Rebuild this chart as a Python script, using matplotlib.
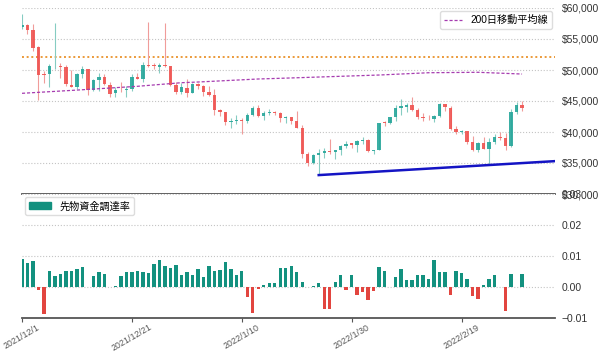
import matplotlib
matplotlib.use("Agg")
import matplotlib.pyplot as plt
import matplotlib.dates as mdates
from matplotlib.patches import Patch
from matplotlib.lines import Line2D
import numpy as np
import pandas as pd

plt.rcParams['font.family'] = ['Liberation Sans', 'Noto Sans CJK JP']

dates = pd.date_range('2021-12-01', '2022-03-02', freq='D')

opens = [56907, 57217, 56509, 53727, 49400, 49413, 50581, 50667, 50451, 47642,
         47264, 49354, 50114, 46709, 48380, 48900, 47654, 46219, 46853, 46707,
         46886, 48937, 48626, 50807, 50800, 50500, 50800, 50679, 47624, 46491,
         47169, 46311, 47681, 47343, 46459, 45899, 43566, 43153, 41562, 41734,
         41910, 41819, 42742, 43947, 42599, 43102, 43172, 43118, 42250, 42375,
         41744, 40699, 36471, 35048, 36275, 36654, 36950, 36841, 37128, 37780,
         38151, 37920, 38481, 38744, 36945, 37149, 41501, 41441, 42407, 43855,
         44096, 44347, 43571, 42412, 42237, 42158, 42586, 44578, 43937, 40552,
         40022, 40118, 38423, 37068, 38285, 37278, 38333, 39213, 39098, 37707,
         43194, 44357]
highs = [59041, 57376, 57482, 53904, 49768, 50929, 57600, 51171, 50797, 50015,
         49458, 50724, 50205, 48475, 49473, 49425, 47995, 47313, 48089, 47401,
         49329, 49531, 51332, 57700, 51156, 51209, 57500, 50679, 48119, 47879,
         48473, 47827, 47881, 47510, 47406, 46929, 43749, 43153, 42229, 42663,
         42200, 43002, 44136, 44314, 43346, 43724, 43436, 43179, 42534, 42479,
         43413, 41060, 36836, 36433, 37248, 37444, 38825, 37148, 37952, 38576,
         38266, 38647, 39115, 38834, 37154, 41527, 41847, 42500, 44401, 45293,
         44727, 45661, 43810, 42992, 42726, 42790, 44667, 44578, 44132, 40930,
         40247, 40119, 39394, 38432, 39123, 38968, 39630, 40005, 39843, 43760,
         44793, 45077]
lows = [56553, 55777, 53000, 45200, 47857, 47281, 50175, 48765, 47358, 47236,
        46942, 48739, 45894, 46547, 46672, 47529, 45598, 45598, 46502, 45579,
        46650, 48511, 48110, 50514, 50142, 49576, 50449, 47414, 46202, 46060,
        45678, 46288, 46856, 45835, 45752, 42799, 42645, 41077, 40672, 41338,
        39650, 41408, 42528, 42460, 41982, 42669, 42691, 41680, 41392, 41242,
        40672, 35791, 34500, 34785, 33050, 35779, 36374, 35629, 36211, 37406,
        37409, 36733, 38113, 36832, 36375, 37093, 41039, 41244, 41748, 42807,
        43232, 43402, 42114, 41852, 41997, 41681, 42428, 43456, 40249, 39637,
        39705, 38113, 36950, 36764, 37201, 34800, 38111, 38676, 37018, 37518,
        42952, 43433]
closes = [57229, 56477, 53598, 49201, 49200, 50582, 50700, 50504, 47672, 47243,
          49362, 50098, 46737, 48380, 48864, 47665, 46203, 46848, 46707, 46880,
          48936, 48628, 50784, 50640, 50680, 50800, 50650, 47588, 46444, 47178,
          46306, 47686, 47345, 46458, 45897, 43569, 43160, 41557, 41734, 41912,
          41822, 42736, 43949, 42592, 43100, 43177, 43114, 42250, 42375, 41744,
          40680, 36457, 35031, 36276, 36654, 36954, 36853, 37138, 37784, 38139,
          37917, 38483, 38743, 36952, 37154, 41501, 41441, 42412, 43841, 44118,
          44338, 43565, 42407, 42244, 42197, 42587, 44575, 43961, 40538, 40030,
          40122, 38431, 37075, 38287, 37296, 38332, 39214, 39105, 37709, 43193,
          44354, 43925]

funding = [0.0089, 0.0078, 0.0084, -0.0010, -0.0087, 0.0053, 0.0035, 0.0043, 0.0053, 0.0051,
           0.0058, 0.0065, 0.0000, 0.0037, 0.0049, 0.0041, 0.0000, 0.0004, 0.0035, 0.0048,
           0.0048, 0.0053, 0.0048, 0.0044, 0.0074, 0.0088, 0.0069, 0.0062, 0.0070, 0.0039,
           0.0048, 0.0038, 0.0059, 0.0031, 0.0067, 0.0053, 0.0055, 0.0081, 0.0059, 0.0038,
           0.0052, -0.0031, -0.0083, -0.0006, 0.0008, 0.0013, 0.0013, 0.0060, 0.0061, 0.0067,
           0.0047, 0.0015, 0.0000, 0.0004, 0.0013, -0.0070, -0.0070, 0.0016, 0.0039, -0.0009,
           0.0039, -0.0027, -0.0016, -0.0043, -0.0012, 0.0066, 0.0052, 0.0001, 0.0031, 0.0059,
           0.0023, 0.0023, 0.0038, 0.0038, 0.0027, 0.0086, 0.0048, 0.0048, -0.0025, 0.0052,
           0.0044, 0.0025, -0.0029, -0.0040, 0.0008, 0.0027, 0.0038, 0.0000, -0.0077, 0.0042,
           0.0000, 0.0042]

# 200-day moving average, read at a few days
ma_days = [0, 10, 21, 29, 32, 43, 47, 65, 74, 83, 91]
ma_values = [46240, 46760, 47370, 47950, 48060, 48550, 48660, 49190, 49560, 49630, 49350]

resistance = 52100
support_days = [54, 97]
support_values = [33050, 35300]

price_ticks = [30000, 35000, 40000, 45000, 50000, 55000, 60000]
rate_ticks = [-0.01, 0.00, 0.01, 0.02, 0.03]

TEAL = '#26a69a'
RED = '#ef5350'
BAR_TEAL = '#13917f'
BAR_RED = '#e2453f'

x = mdates.date2num(dates)
x0 = x[0]
o = np.array(opens); h = np.array(highs); l = np.array(lows); c = np.array(closes)
up = c >= o

fig = plt.figure(figsize=(6.02, 3.53), dpi=100)
ax1 = fig.add_axes([22/602, 1-194/353, 533/602, 186/353])
ax2 = fig.add_axes([22/602, 1-318/353, 533/602, 124/353], sharex=ax1)

# candles
wick_cols = np.where(up, '#86ccc2', '#f09c9a')
ax1.vlines(x, l, h, colors=wick_cols, lw=0.8, zorder=2)
body_bot = np.minimum(o, c)
body_h = np.maximum(np.abs(c - o), 110)
ax1.bar(x, body_h, bottom=body_bot, width=0.62,
        color=np.where(up, TEAL, RED), alpha=0.9, zorder=3)

ax1.axhline(resistance, color='#eb9a3a', ls=(0, (1, 1.4)), lw=1.4, zorder=1)
ax1.plot(x[ma_days], ma_values, color='#a63cb0', ls=(0, (2.5, 1.5)), lw=0.9, zorder=4)
ax1.plot([x0 + d for d in support_days], support_values, color='#1414c4', lw=1.8, zorder=4)

ax1.set_ylim(30000, 60000)
ax1.set_yticks(price_ticks)
ax1.set_yticklabels([f'${v:,}' for v in price_ticks])

ma_handle = Line2D([], [], color='#a63cb0', ls=(0, (2.5, 1.5)), lw=0.9)
ax1.legend([ma_handle], ['200日移動平均線'], loc='upper right', fontsize=7.3,
           handlelength=1.8, borderaxespad=0.3, framealpha=1, edgecolor='#dddddd')

# funding rate bars
fr = np.array(funding)
ax2.bar(x, fr, width=0.62, color=np.where(fr >= 0, BAR_TEAL, BAR_RED), zorder=3)
ax2.set_ylim(-0.01, 0.03)
ax2.set_yticks(rate_ticks)
ax2.set_yticklabels([f'{v:.2f}'.replace('-', '\u2212') for v in rate_ticks])
ax2.legend([Patch(color=BAR_TEAL)], ['先物資金調達率'], loc='upper left', fontsize=7.3,
           handlelength=2.2, borderaxespad=0.3, framealpha=1, edgecolor='#dddddd')

tick_idx = [0, 20, 40, 60, 80]
ax2.set_xticks(x[tick_idx])
ax2.set_xticklabels([f'{d.year}/{d.month}/{d.day}' for d in dates[tick_idx]],
                    rotation=30, ha='center', fontsize=6.4, color='#555555')
ax1.set_xlim(x0, x0 + 97)

for ax in (ax1, ax2):
    ax.yaxis.tick_right()
    ax.tick_params(axis='y', length=0, pad=5, labelsize=7.5, colors='#333333')
    ax.yaxis.grid(True, ls=':', color='#c4c4c4', lw=0.8)
    ax.set_axisbelow(True)
    for s in ('top', 'left', 'right'):
        ax.spines[s].set_visible(False)
    ax.spines['bottom'].set_color('#555555')
    ax.spines['bottom'].set_linewidth(1.3)

ax1.tick_params(axis='x', length=0, labelbottom=False)
ax2.tick_params(axis='x', length=3, color='#555555', pad=0.5)

fig.savefig('out.png', dpi=100)
